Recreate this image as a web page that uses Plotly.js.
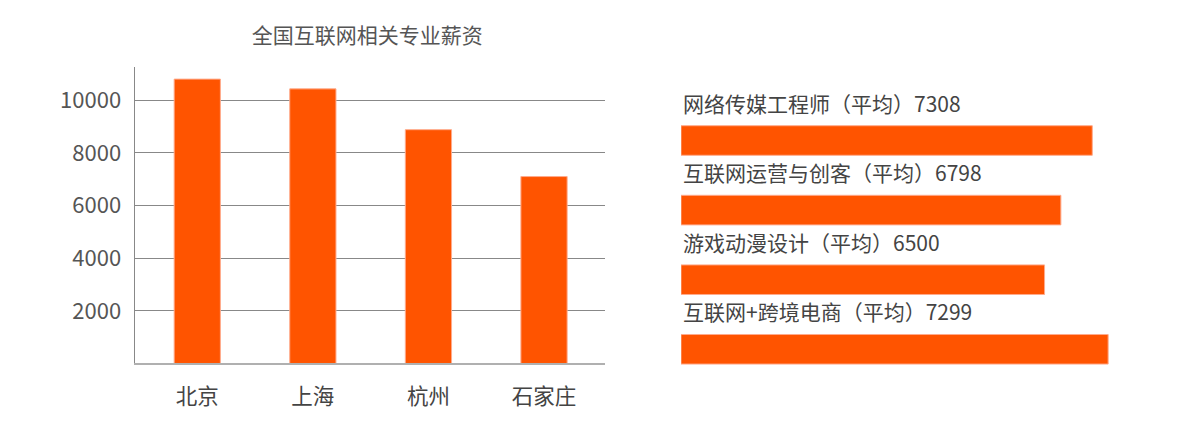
<!DOCTYPE html>
<html>
<head>
<meta charset="utf-8">
<script src="https://cdn.plot.ly/plotly-3.0.1.min.js"></script>
<style>
  html, body { margin: 0; padding: 0; background: #fff; }
  #chart { width: 1200px; height: 429px; }
</style>
</head>
<body>
<div id="chart"></div>
<script>
// left chart: salary by city
var cities = ['北京', '上海', '杭州', '石家庄'];
var citySalary = [10800, 10430, 8880, 7100];
var yTicks = [2000, 4000, 6000, 8000, 10000];

// right chart: salary by major
var majors = ['网络传媒工程师', '互联网运营与创客', '游戏动漫设计', '互联网+跨境电商'];
var majorAvg = [7308, 6798, 6500, 7299];      // numbers printed in the labels
var majorBar = [7308, 6750, 6460, 7590];      // bar lengths as drawn in the picture

var FONT = '"Noto Sans CJK SC", "Noto Sans", sans-serif';
var ORANGE = '#ff5400';

function drawSalary() {
    var data = [];
    data.push({
        type: 'bar', x: cities, y: citySalary, width: 0.4,
        xaxis: 'x', yaxis: 'y',
        marker: { color: ORANGE, line: { color: '#ffab8c', width: 1 } },
        hoverinfo: 'x+y'
    });
    data.push({
        type: 'bar', orientation: 'h', x: majorBar, y: majors, width: 0.425,
        xaxis: 'x2', yaxis: 'y2',
        marker: { color: ORANGE, line: { color: '#ffab8c', width: 1 } },
        hoverinfo: 'x+y'
    });

    var notes = [];
    for (var i in majors) {
        notes.push({
            xref: 'x2', yref: 'y2', x: 0, y: majors[i],
            xanchor: 'left', yanchor: 'middle', xshift: 0, yshift: 38,
            showarrow: false,
            text: majors[i] + '（平均）' + majorAvg[i],
            font: { family: FONT, size: 21, color: '#444' }
        });
    }

    var layout = {
        width: 1200, height: 429, autosize: false,
        margin: { l: 0, r: 0, t: 0, b: 0 },
        paper_bgcolor: '#fff', plot_bgcolor: 'rgba(0,0,0,0)',
        showlegend: false,
        font: { family: FONT, color: '#555' },
        title: {
            text: '全国互联网相关专业薪资',
            x: 0.306, xanchor: 'center', xref: 'paper',
            y: 0.918, yanchor: 'middle', yref: 'paper',
            font: { family: FONT, size: 21, color: '#555' }
        },
        xaxis: {
            domain: [0.1121, 0.5042], range: [-0.543, 3.528], type: 'category',
            showline: true, linecolor: '#b0b0b0', linewidth: 2,
            showgrid: false, ticks: '', ticklabelstandoff: 13,
            tickfont: { family: FONT, size: 21.5, color: '#444' }
        },
        yaxis: {
            domain: [0.1527, 0.8438], range: [0, 11260],
            showline: true, linecolor: '#888', linewidth: 1,
            showgrid: true, gridcolor: '#888', gridwidth: 1, zeroline: false,
            tickvals: yTicks, ticktext: yTicks.map(String),
            ticks: '', ticklabelstandoff: 8,
            tickfont: { family: FONT, size: 22, color: '#555' }
        },
        xaxis2: {
            domain: [0.5675, 1], range: [0, 9222], anchor: 'y2',
            visible: false, showgrid: false, zeroline: false
        },
        yaxis2: {
            domain: [0.1047, 0.7536], range: [3.5, -0.5], type: 'category', anchor: 'x2',
            visible: false, showgrid: false
        },
        annotations: notes
    };

    Plotly.newPlot('chart', data, layout, { displayModeBar: false, staticPlot: true });
}

drawSalary();
</script>
</body>
</html>
